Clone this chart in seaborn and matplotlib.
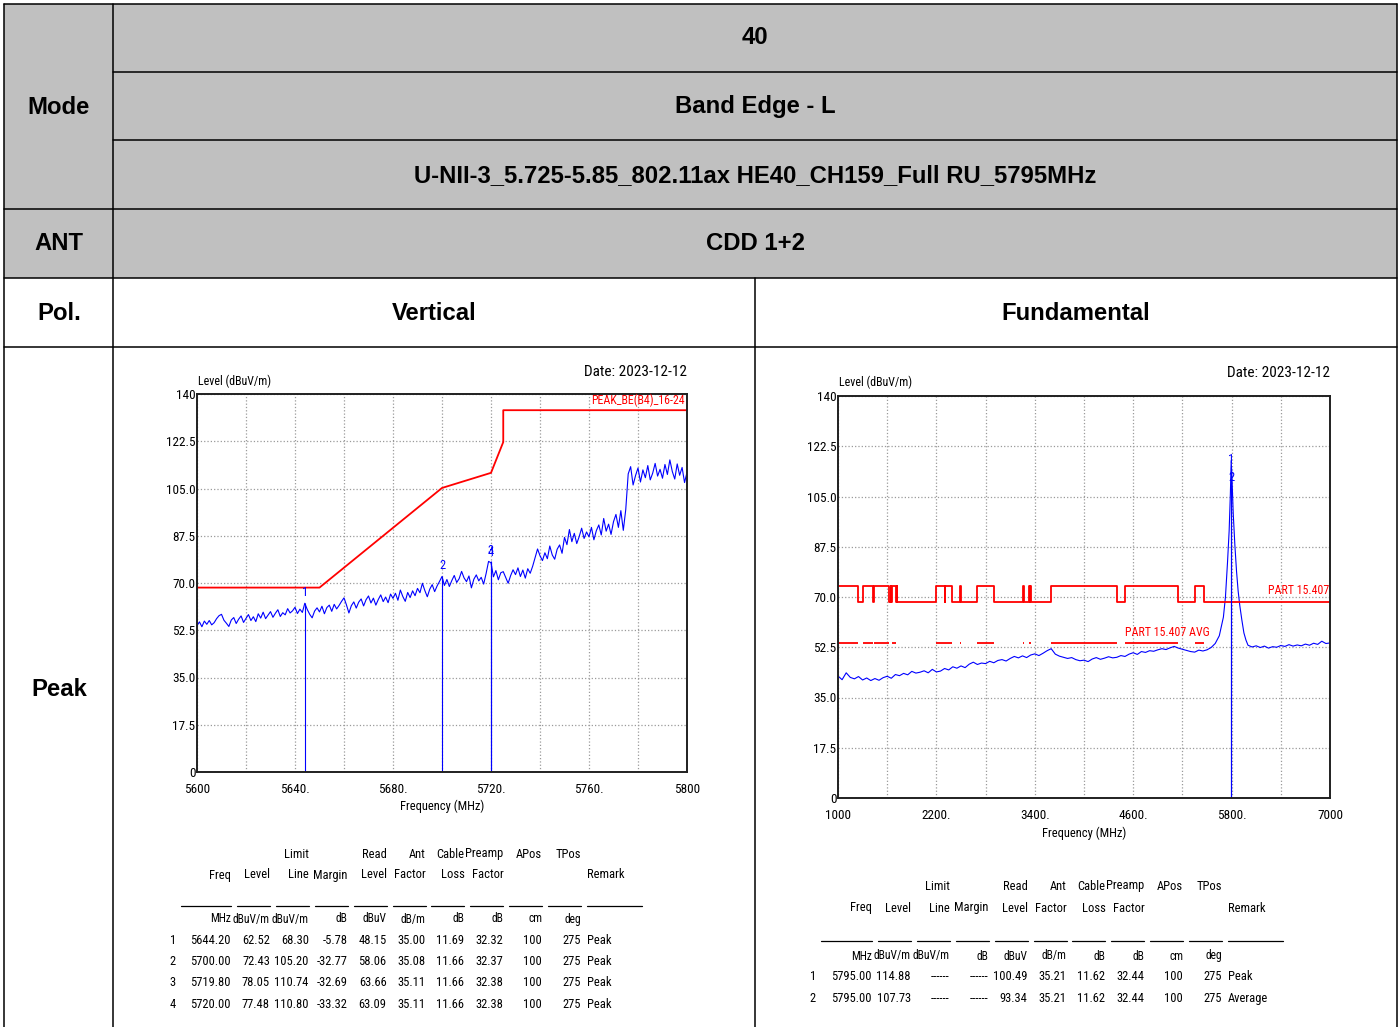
import matplotlib
matplotlib.use("Agg")
import matplotlib.pyplot as plt
import seaborn as sns
from matplotlib import font_manager as fm
from matplotlib.patches import Rectangle

# ---------------- band edge sweep (left chart) ----------------
be_freq = list(range(5600, 5801))  # 1 MHz sweep points
be_level = [
    54.2, 55.6, 53.8, 55.9, 54.7, 56.1, 54.5, 55.3, 56.8, 57.9,
    58.4, 56.2, 55.1, 53.9, 56.3, 57.2, 55.0, 56.6, 57.8, 55.4,
    56.9, 58.3, 56.1, 57.5, 55.7, 58.6, 57.0, 59.2, 56.8, 58.1,
    59.4, 57.3, 58.8, 60.1, 57.6, 59.0, 58.2, 60.5, 58.9, 59.7,
    61.0, 58.7, 60.3, 59.1, 62.5, 60.2, 58.4, 57.1, 59.6, 60.8,
    59.3, 61.4, 58.6, 60.9, 61.8, 59.5, 62.1, 60.4, 61.7, 63.2,
    64.5, 61.9, 58.9, 61.6, 63.0, 60.7, 62.9, 64.1, 61.5, 63.8,
    65.2, 62.6, 64.4, 61.8, 63.9, 65.6, 63.1, 64.8, 62.7, 65.9,
    64.3, 66.2, 63.6, 67.4, 65.0, 63.2, 66.5, 64.6, 67.1, 65.3,
    68.0, 66.4, 69.9, 67.2, 64.9, 67.7, 69.4, 66.8, 68.9, 70.6,
    72.4, 69.1, 71.3, 68.7, 70.9, 72.8, 70.2, 71.6, 74.3, 71.9,
    70.5, 72.6, 68.2, 71.4, 73.0, 70.8, 72.1, 69.6, 73.5, 78.0,
    77.5, 72.3, 74.6, 71.2, 73.8, 74.2, 72.0, 69.9, 72.7, 74.9,
    73.1, 75.6, 72.4, 74.8, 71.8, 75.3, 73.6, 76.2, 79.4, 82.6,
    80.1, 78.3, 81.2, 79.0, 83.7, 80.4, 78.8, 82.5, 84.1, 81.0,
    86.9, 84.2, 89.8, 85.3, 88.4, 84.6, 87.2, 90.3, 86.5, 88.9,
    87.1, 90.6, 86.0, 89.4, 91.5, 87.8, 93.9, 89.2, 91.8, 88.0,
    92.7, 95.4, 90.6, 96.8, 89.5, 97.2, 110.4, 113.1, 106.3, 109.8,
    112.6, 107.4, 111.9, 109.0, 113.5, 108.2, 110.7, 114.3, 109.6, 112.1,
    108.8, 113.9, 110.2, 115.6, 111.3, 108.5, 114.1, 109.9, 112.8, 107.2,
    111.0,
]
be_limit_freq = [5600, 5650, 5700, 5720, 5725, 5725, 5800]
be_limit_level = [68.3, 68.3, 105.2, 110.8, 122.2, 134.0, 134.0]
be_marker_freq = [5644.20, 5700.00, 5719.80, 5720.00]
be_marker_level = [62.52, 72.43, 78.05, 77.48]

# ---------------- fundamental sweep (right chart) ----------------
fd_freq = (list(range(1000, 5700, 50))
           + [5700, 5725, 5750, 5770, 5785, 5795, 5805, 5820, 5840, 5860,
              5880, 5900, 5925, 5950, 5975]
           + list(range(6000, 7001, 50)))
fd_level = [
    42.5, 41.2, 43.6, 42.0, 41.5, 42.3, 41.1, 41.8, 40.9, 41.6,
    41.0, 41.9, 42.4, 41.7, 43.0, 42.6, 43.4, 42.9, 44.1, 43.5,
    43.8, 44.3, 43.6, 44.8, 43.9, 44.2, 45.1, 44.6, 45.7, 45.2,
    46.0, 45.4, 46.6, 47.3, 46.5, 47.0, 46.8, 47.6, 47.1, 47.9,
    48.2, 47.7, 48.6, 49.3, 48.8, 49.5, 48.9, 49.8, 50.2, 49.6,
    50.4, 51.3, 52.0, 50.1, 49.4, 49.0, 48.6, 48.9, 48.2, 47.8,
    48.0, 47.5, 48.4, 48.9, 48.3, 48.7, 49.2, 48.8, 49.0, 49.6,
    49.3, 50.1, 50.6, 50.0, 51.0, 50.7, 51.3, 51.1, 51.6, 52.0,
    51.7, 52.3, 52.8, 52.2, 51.8, 51.4, 51.0, 50.8, 51.5, 51.2,
    51.6, 52.4, 53.8, 56.5,
    63.0, 70.0, 82.0, 93.0, 106.0, 117.5, 111.0, 99.0, 88.0, 79.0,
    72.0, 67.0, 62.0, 57.5, 55.0,
    53.2, 52.6, 53.0, 52.4, 52.9, 52.2, 52.7, 52.5, 53.1, 52.8,
    53.4, 52.9, 53.3, 53.0, 53.6, 53.2, 53.9, 53.5, 54.6, 53.8,
    54.0,
]
restricted_lo = [1000, 1300, 1435, 1645.5, 1660, 1718.8, 2200, 2310, 2483.5,
                 2690, 3260, 3332, 3345.8, 3600, 4500, 5350]
restricted_hi = [1240, 1427, 1626.5, 1646.5, 1710, 1722.2, 2300, 2390, 2500,
                 2900, 3267, 3339, 3358, 4400, 5150, 5460]
peak_limit_hi, peak_limit_lo, avg_limit = 74.0, 68.3, 54.0
fd_marker_freq = [5795.00, 5795.00]
fd_marker_level = [114.88, 107.73]

# ---------------- result tables ----------------
col_top = ["", "", "Limit", "", "Read", "Ant", "Cable", "Preamp", "APos", "TPos"]
col_mid = ["Freq", "Level", "Line", "Margin", "Level", "Factor", "Loss", "Factor", "", ""]
col_unit = ["MHz", "dBuV/m", "dBuV/m", "dB", "dBuV", "dB/m", "dB", "dB", "cm", "deg"]
be_rows = [
    ["5644.20", "62.52", "68.30", "-5.78", "48.15", "35.00", "11.69", "32.32", "100", "275", "Peak"],
    ["5700.00", "72.43", "105.20", "-32.77", "58.06", "35.08", "11.66", "32.37", "100", "275", "Peak"],
    ["5719.80", "78.05", "110.74", "-32.69", "63.66", "35.11", "11.66", "32.38", "100", "275", "Peak"],
    ["5720.00", "77.48", "110.80", "-33.32", "63.09", "35.11", "11.66", "32.38", "100", "275", "Peak"],
]
fd_rows = [
    ["5795.00", "114.88", "------", "------", "100.49", "35.21", "11.62", "32.44", "100", "275", "Peak"],
    ["5795.00", "107.73", "------", "------", "93.34", "35.21", "11.62", "32.44", "100", "275", "Average"],
]

sns.set_style("white")


def pick_narrow():
    # look for any condensed / narrow face that happens to be installed
    for fam in ["Liberation Sans Narrow", "Roboto Condensed", "Noto Sans Condensed",
                "DejaVu Sans Condensed", "Open Sans Condensed"]:
        try:
            fm.findfont(fm.FontProperties(family=fam), fallback_to_default=False)
            return dict(family=[fam, "DejaVu Sans"]), True
        except ValueError:
            pass
    for fam in ["DejaVu Sans", "Noto Sans", "Roboto", "Open Sans"]:
        try:
            path = fm.findfont(fm.FontProperties(family=fam, stretch="condensed"),
                               fallback_to_default=False)
        except ValueError:
            continue
        if "ondensed" in path or "arrow" in path:
            return dict(family=[fam], fontstretch="condensed"), True
    return dict(family=["Liberation Sans", "DejaVu Sans"]), False


NARROW, HAVE_NARROW = pick_narrow()
plt.rcParams['font.family'] = NARROW["family"]
plt.rcParams['text.color'] = "black"
plt.rcParams['xtick.color'] = "black"
plt.rcParams['ytick.color'] = "black"
if "fontstretch" in NARROW:
    plt.rcParams['font.stretch'] = "condensed"
TICK_FS = 9.5 if HAVE_NARROW else 8.5
ANN_FS = 8.6 if HAVE_NARROW else 7.8
TAB_FS = 9 if HAVE_NARROW else 7.4
UNIT_FS = 8.3 if HAVE_NARROW else 7.0

W, H = 1400, 1027
fig = plt.figure(figsize=(W / 100, H / 100), dpi=100)
bg = fig.add_axes([0, 0, 1, 1])
bg.set_xlim(0, W)
bg.set_ylim(H, 0)
bg.axis("off")

GRAY = "#c0c0c0"
bg.add_patch(Rectangle((4, 4), 1393, 274, facecolor=GRAY, edgecolor="none"))
lk = dict(color="black", lw=1.1)
for x in [4, 113, 1397]:
    bg.plot([x, x], [4, H + 5], **lk)
bg.plot([755, 755], [278, H + 5], **lk)
for y in [4, 209, 278, 347]:
    bg.plot([4, 1397], [y, y], **lk)
for y in [72, 140]:
    bg.plot([113, 1397], [y, y], **lk)

hk = dict(family="Liberation Sans", weight="bold", fontsize=17.2, ha="center",
          va="center", color="black", fontstretch="normal")
bg.text(59, 107, "Mode", **hk)
bg.text(755, 38, "40", **hk)
bg.text(755, 107, "Band Edge - L", **hk)
bg.text(755, 176, "U-NII-3_5.725-5.85_802.11ax HE40_CH159_Full RU_5795MHz", **hk)
bg.text(59, 244, "ANT", **hk)
bg.text(755, 244, "CDD 1+2", **hk)
bg.text(59, 313, "Pol.", **hk)
bg.text(434, 313, "Vertical", **hk)
bg.text(1076, 313, "Fundamental", **hk)
bg.text(59, 689, "Peak", **hk)


def px_axes(l, t, r, b):
    return fig.add_axes([l / W, 1 - b / H, (r - l) / W, (b - t) / H])


def style_chart(ax, xmin, xmax, xstep, xlabels):
    ax.set_xlim(xmin, xmax)
    ax.set_ylim(0, 140)
    ax.set_xticks([xmin + i * xstep for i in range(11)])
    ax.set_xticklabels([xlabels[i // 2] if i % 2 == 0 else "" for i in range(11)])
    ax.set_yticks([i * 17.5 for i in range(9)])
    ax.set_yticklabels(["0", "17.5", "35.0", "52.5", "70.0", "87.5", "105.0", "122.5", "140"])
    ax.tick_params(axis="both", length=0, labelsize=TICK_FS)
    ax.tick_params(axis="y", pad=1)
    ax.tick_params(axis="x", pad=8)
    ax.grid(True, color="#9a9a9a", linestyle=":", linewidth=0.9)
    for s in ax.spines.values():
        s.set_color("#202020")
        s.set_linewidth(1.4)
    ax.set_xlabel("")
    ax.set_ylabel("")


# ---------- left chart ----------
ax1 = px_axes(197, 394, 687, 772)
sns.lineplot(x=be_freq, y=be_level, ax=ax1, color="#0000ff", linewidth=0.8,
             estimator=None, sort=False)
sns.lineplot(x=be_limit_freq, y=be_limit_level, ax=ax1, color="#ff0000",
             linewidth=1.3, estimator=None, sort=False)
ax1.vlines(be_marker_freq, 0, be_marker_level, color="#0000ff", linewidth=0.8)
for i, (f, lv) in enumerate(zip(be_marker_freq, be_marker_level)):
    ax1.text(f, lv + 4, str(i + 1), color="#0000ff", fontsize=9, ha="center", va="center")
ax1.text(5799, 137.8, "PEAK_BE(B4)_16-24", color="#ff0000", fontsize=ANN_FS,
         ha="right", va="center")
style_chart(ax1, 5600, 5800, 20, ["5600", "5640.", "5680.", "5720.", "5760.", "5800"])
bg.text(198, 381, "Level (dBuV/m)", fontsize=ANN_FS, ha="left", va="center")
bg.text(687, 372, "Date: 2023-12-12", fontsize=11, ha="right", va="center")
bg.text(442, 806, "Frequency (MHz)", fontsize=9, ha="center", va="center")

# ---------- right chart ----------
ax2 = px_axes(838, 396, 1330, 798)
lim_x, lim_y = [], []
prev = 1000
for lo, hi in zip(restricted_lo, restricted_hi):
    if lo > prev:
        lim_x += [prev, lo]
        lim_y += [peak_limit_lo, peak_limit_lo]
    lim_x += [lo, hi]
    lim_y += [peak_limit_hi, peak_limit_hi]
    prev = hi
lim_x += [prev, 7000]
lim_y += [peak_limit_lo, peak_limit_lo]
sns.lineplot(x=fd_freq, y=fd_level, ax=ax2, color="#0000ff", linewidth=0.8,
             estimator=None, sort=False)
sns.lineplot(x=lim_x, y=lim_y, ax=ax2, color="#ff0000", linewidth=1.3,
             estimator=None, sort=False)
ax2.hlines([avg_limit] * len(restricted_lo), restricted_lo, restricted_hi,
           color="#ff0000", linewidth=1.3)
ax2.vlines(fd_marker_freq, 0, fd_marker_level, color="#0000ff", linewidth=0.8)
ax2.text(fd_marker_freq[0], fd_marker_level[0] + 3, "1", color="#0000ff", fontsize=9,
         ha="center", va="center")
ax2.text(fd_marker_freq[1], fd_marker_level[1] + 4, "2", color="#0000ff", fontsize=9,
         ha="center", va="center")
ax2.text(6990, 72.2, "PART 15.407", color="#ff0000", fontsize=ANN_FS, ha="right", va="center")
ax2.text(4500, 57.8, "PART 15.407 AVG", color="#ff0000", fontsize=ANN_FS, ha="left", va="center")
style_chart(ax2, 1000, 7000, 600, ["1000", "2200.", "3400.", "4600.", "5800.", "7000"])
bg.text(839, 382, "Level (dBuV/m)", fontsize=ANN_FS, ha="left", va="center")
bg.text(1330, 373, "Date: 2023-12-12", fontsize=11, ha="right", va="center")
bg.text(1084, 833, "Frequency (MHz)", fontsize=9, ha="center", va="center")


# ---------- result tables ----------
def draw_table(x0, idx_x, ys, rows):
    step = 38.9
    rights = [x0 + i * step for i in range(10)]
    remark_x = rights[-1] + 6
    tk = dict(fontsize=TAB_FS, va="center", ha="right")
    for r, txt in zip(rights, col_top):
        bg.text(r, ys[0], txt, **tk)
    for r, txt in zip(rights, col_mid):
        bg.text(r, ys[1], txt, **tk)
    bg.text(remark_x, ys[1], "Remark", fontsize=TAB_FS, va="center", ha="left")
    # underline row
    bg.plot([idx_x + 8, rights[0]], [ys[2], ys[2]], color="black", lw=0.9)
    for r in rights[1:]:
        bg.plot([r - 33, r], [ys[2], ys[2]], color="black", lw=0.9)
    bg.plot([remark_x, remark_x + 55], [ys[2], ys[2]], color="black", lw=0.9)
    for r, txt in zip(rights, col_unit):
        bg.text(r, ys[3], txt, fontsize=UNIT_FS, va="center", ha="right")
    for k, row in enumerate(rows):
        y = ys[4] + k * 21.5
        bg.text(idx_x, y, str(k + 1), fontsize=TAB_FS, va="center", ha="center")
        for r, txt in zip(rights, row[:10]):
            bg.text(r, y, txt, **tk)
        bg.text(remark_x, y, row[10], fontsize=TAB_FS, va="center", ha="left")


draw_table(231, 173, [854, 875, 906, 919, 940], be_rows)
draw_table(872, 813, [886, 908, 941, 956, 977], fd_rows)

fig.savefig("out.png", dpi=100, facecolor="white")
